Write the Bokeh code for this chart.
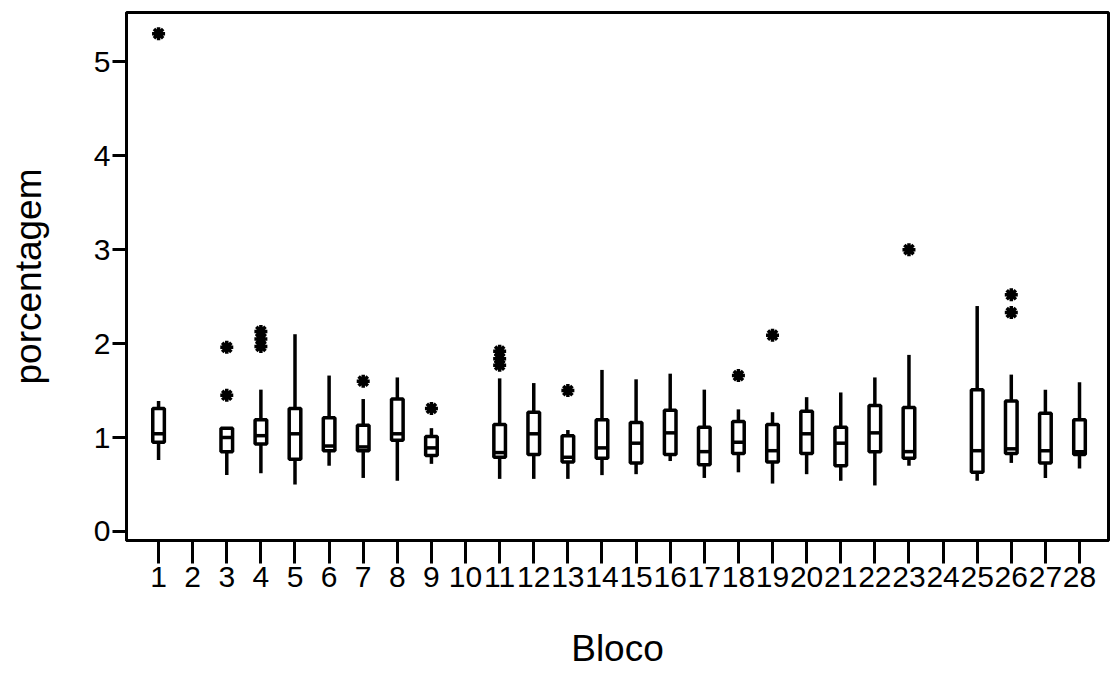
import numpy as np
from bokeh.plotting import figure
from bokeh.models import Range1d, FixedTicker
from bokeh.embed import file_html
from bokeh.resources import INLINE

# Box-plot statistics per bloco (blocos 2, 10 and 24 have no data)
blocks  = [1, 3, 4, 5, 6, 7, 8, 9, 11, 12, 13, 14, 15, 16, 17, 18, 19, 20, 21, 22, 23, 25, 26, 27, 28]
w_low   = [0.76, 0.60, 0.62, 0.50, 0.70, 0.57, 0.54, 0.72, 0.56, 0.56, 0.56, 0.60, 0.61, 0.75, 0.57, 0.63, 0.51, 0.61, 0.54, 0.49, 0.70, 0.54, 0.73, 0.57, 0.67]
q1      = [0.95, 0.85, 0.93, 0.77, 0.86, 0.86, 0.97, 0.81, 0.79, 0.82, 0.74, 0.78, 0.73, 0.82, 0.71, 0.83, 0.74, 0.83, 0.70, 0.85, 0.78, 0.63, 0.83, 0.73, 0.82]
median  = [1.04, 1.00, 1.02, 1.04, 0.91, 0.90, 1.04, 0.89, 0.84, 1.04, 0.79, 0.89, 0.94, 1.05, 0.85, 0.95, 0.86, 1.04, 0.94, 1.05, 0.85, 0.86, 0.88, 0.86, 0.85]
q3      = [1.31, 1.10, 1.19, 1.31, 1.21, 1.13, 1.41, 1.01, 1.14, 1.27, 1.02, 1.19, 1.16, 1.29, 1.11, 1.17, 1.14, 1.28, 1.11, 1.34, 1.32, 1.51, 1.39, 1.26, 1.19]
w_high  = [1.39, 1.10, 1.51, 2.10, 1.66, 1.41, 1.64, 1.10, 1.63, 1.58, 1.08, 1.72, 1.62, 1.68, 1.51, 1.30, 1.27, 1.43, 1.48, 1.64, 1.88, 2.40, 1.67, 1.51, 1.59]

# Outliers (asterisks)
out_block = [1, 3, 3, 4, 4, 4, 7, 9, 11, 11, 11, 13, 18, 19, 23, 26, 26]
out_value = [5.30, 1.45, 1.96, 2.13, 2.05, 1.97, 1.60, 1.31, 1.92, 1.84, 1.77, 1.50, 1.66, 2.09, 3.00, 2.52, 2.33]

tick_blocks = list(range(1, 29))
y_ticks = [0, 1, 2, 3, 4, 5]

FONT = "Liberation Sans"
BOX_W = 0.34

p = figure(width=1112, height=675, output_backend="svg", toolbar_location=None,
           x_range=Range1d(0.06, 28.85), y_range=Range1d(-0.096, 5.525),
           min_border_left=126, min_border_right=4, min_border_top=12, min_border_bottom=135)
p.background_fill_color = "white"
p.border_fill_color = "white"
p.grid.visible = False
p.outline_line_color = "black"
p.outline_line_width = 3

b = np.array(blocks, dtype=float)

# whiskers
p.segment(x0=b, y0=w_low, x1=b, y1=q1, line_color="black", line_width=3.5)
p.segment(x0=b, y0=q3, x1=b, y1=w_high, line_color="black", line_width=3.5)
# boxes
p.vbar(x=b, width=BOX_W, bottom=q1, top=q3, fill_color="white",
       line_color="black", line_width=3.5)
# medians
p.segment(x0=b - BOX_W / 2, y0=median, x1=b + BOX_W / 2, y1=median,
          line_color="black", line_width=3.5)
# outliers
p.scatter(x=out_block, y=out_value, marker="asterisk", size=13,
          line_color="black", line_width=3.5)

# axes
for ax in (p.xaxis[0], p.yaxis[0]):
    ax.axis_line_color = "black"
    ax.axis_line_width = 3
    ax.major_tick_line_color = "black"
    ax.major_tick_line_width = 3
    ax.major_tick_in = 0
    ax.minor_tick_line_color = None
    ax.major_label_text_font = FONT
    ax.major_label_text_color = "black"
    ax.major_label_text_font_size = "30px"
    ax.axis_label_text_font = FONT
    ax.axis_label_text_font_style = "normal"
    ax.axis_label_text_color = "black"
    ax.axis_label_text_font_size = "37px"

p.xaxis.ticker = FixedTicker(ticks=tick_blocks)
p.xaxis.major_tick_out = 23
p.xaxis.major_label_standoff = 3
p.xaxis.axis_label = "Bloco"
p.xaxis.axis_label_standoff = 38

p.yaxis.ticker = FixedTicker(ticks=y_ticks)
p.yaxis.major_tick_out = 14
p.yaxis.major_label_standoff = 2
p.yaxis.axis_label = "porcentagem"
p.yaxis.axis_label_standoff = 42

open("out.html", "w").write(file_html(p, INLINE))
